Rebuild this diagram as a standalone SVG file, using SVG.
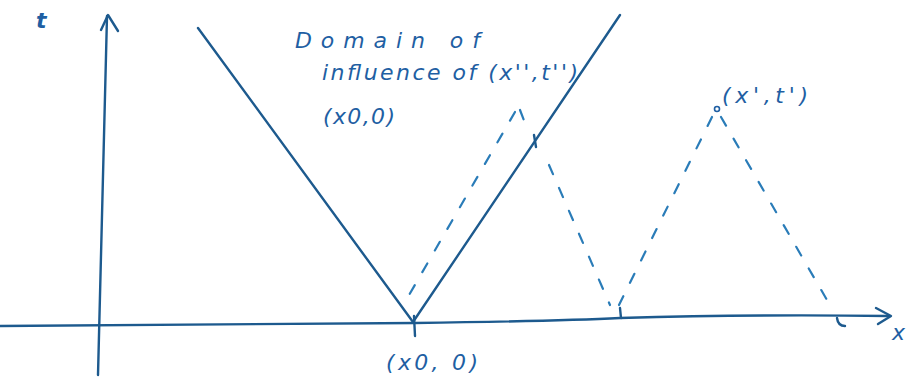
<svg xmlns="http://www.w3.org/2000/svg" width="910" height="381" viewBox="0 0 910 381">
<style>
.solid{fill:none;stroke:#1d5a8e;stroke-width:2.4;stroke-linecap:round;stroke-linejoin:round}
.dash{fill:none;stroke:#2a7cb8;stroke-width:2.2;stroke-dasharray:10 15;stroke-linecap:round}
.lbl{font-family:"DejaVu Sans",sans-serif;font-style:oblique;fill:#1f5fa3;font-size:22px}
</style>
<rect width="910" height="381" fill="#ffffff"/>
<g id="axes">
<path class="solid" d="M98 375 L107 16"/>
<path class="solid" d="M101 30 L108 15 L118 31"/>
<path class="solid" d="M0 326 Q300 324 415 323 Q560 321 620 318 Q760 314 888 316"/>
<path class="solid" d="M876 308 L891 316 L878 324"/>
<text class="lbl" x="36" y="28" font-size="21" font-weight="bold">t</text>
<text class="lbl" x="892" y="340" font-size="21">x</text>
</g>
<g id="cone-x0">
<path class="solid" d="M198 28 L413 322 L620 15"/>
<path class="solid" d="M414 316 L415 336"/>
<path class="solid" d="M534 135 L536 147"/>
<text class="lbl" x="386" y="370" textLength="92" lengthAdjust="spacing">(x0, 0)</text>
</g>
<g id="label-domain">
<text class="lbl" x="295" y="48" textLength="185" lengthAdjust="spacing">Domain of</text>
<text class="lbl" x="322" y="80" font-size="21" textLength="256" lengthAdjust="spacing">influence of (x'',t'')</text>
<text class="lbl" x="323" y="124" font-size="18" textLength="72" lengthAdjust="spacing">(x0,0)</text>
</g>
<g id="connectors">
<g id="triangle-x2">
<path class="dash" d="M515 112 L405 302"/>
<path class="dash" d="M520 110 L525 123"/>
<path class="dash" d="M549 165 L610 305"/>
<path class="solid" d="M620 308 L621 318" stroke-width="1.5"/>
</g>
<g id="triangle-x1">
<path class="dash" d="M712 117 L619 305"/>
<path class="dash" d="M721 117 L827 300"/>
<path class="solid" d="M837 318 Q838 326 845 326" stroke-width="1.5"/>
</g>
</g>
<g id="point-x1">
<circle cx="717" cy="109" r="2.5" fill="none" stroke="#1f5fa3" stroke-width="1.6"/>
<text class="lbl" x="722" y="103" textLength="86" lengthAdjust="spacing">(x',t')</text>
</g>
</svg>
